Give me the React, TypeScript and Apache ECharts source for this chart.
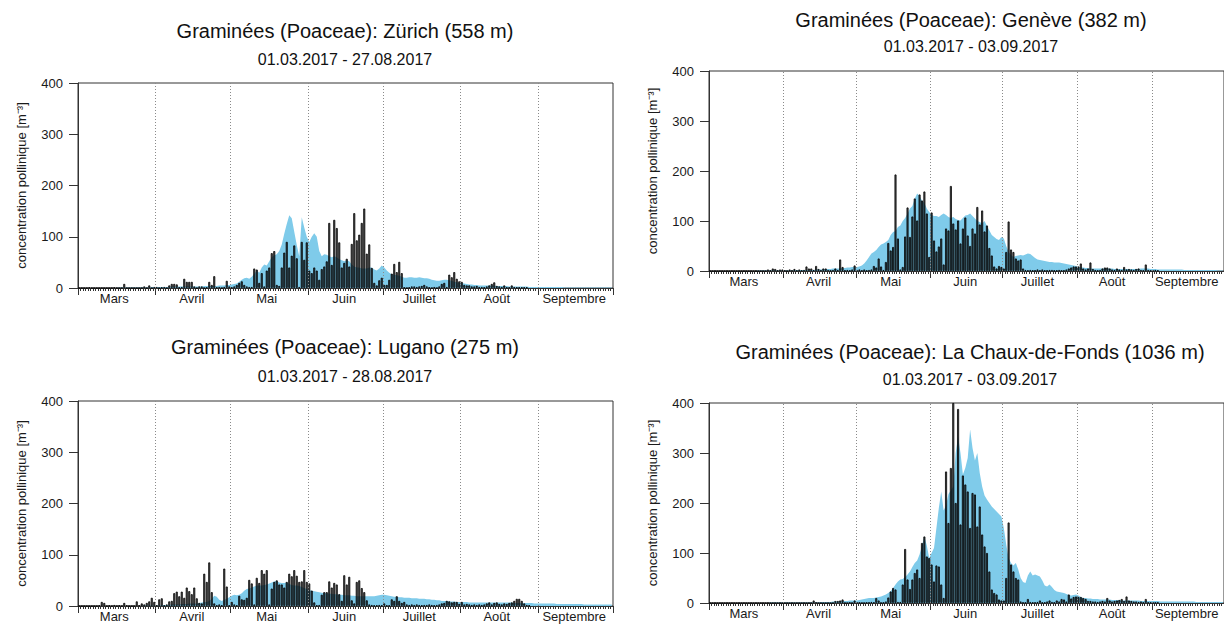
import React, { useEffect, useRef } from "react";
import * as echarts from "echarts";

// ---- axis definitions (day index 0 = 1 March) ----
const MONTH_NAMES = ["Mars", "Avril", "Mai", "Juin", "Juillet", "Août", "Septembre"];
const MONTH_STARTS = [0, 31, 61, 92, 122, 153, 184, 214];
const MONTH_MIDS = [14.5, 45.5, 75.5, 106.5, 136.5, 167.5, 198.5];
const Y_MAX = 400;
const Y_STEP = 100;

const TITLES = [
  "Graminées (Poaceae): Zürich (558 m)",
  "Graminées (Poaceae): Genève (382 m)",
  "Graminées (Poaceae): Lugano (275 m)",
  "Graminées (Poaceae): La Chaux-de-Fonds (1036 m)",
];
const PERIODS = [
  "01.03.2017 - 27.08.2017",
  "01.03.2017 - 03.09.2017",
  "01.03.2017 - 28.08.2017",
  "01.03.2017 - 03.09.2017",
];

// ---- daily measured values 2017 (bars) ----
const zurichBars = [
  0,0,0,0,1,0,0,0,0,0, 0,0,0,0,1,0,0,0,8,0, 0,0,0,0,0,0,3,0,5,0, 2,
  2,0,1,2,0,5,8,8,7,1, 2,18,12,12,12,3,0,3,3,0, 1,12,6,23,1,2,0,2,14,3,
  1,3,6,10,13,6,3,2,2,38, 36,10,29,3,34,40,68,72,6,4, 40,69,90,40,63,83,58,2,90,55, 89,
  34,29,40,34,16,37,42,52,127,45, 133,117,89,40,49,57,42,86,146,93, 104,127,155,67,85,39,10,5,15,20,
  6,6,16,28,47,31,51,29,1,0, 1,3,3,2,3,4,6,3,1,0, 2,0,3,8,10,2,26,21,31,18, 13,
  12,6,5,5,3,3,4,2,2,1, 3,5,8,11,4,3,2,5,1,1, 5,2,1,1,1,1,1,
];
const genevaBars = [
  0,0,0,0,0,0,0,0,0,0, 0,0,0,0,0,0,0,0,0,0, 0,0,0,0,3,1,5,4,1,3, 3,
  1,0,3,1,4,1,3,1,2,9, 5,5,2,10,4,2,5,5,2,1, 2,5,2,23,8,1,2,1,3,11,
  2,3,1,3,1,2,3,10,7,25, 9,2,18,56,41,48,193,65,3,8, 69,127,68,109,145,101,153,141,159,115, 28,
  117,61,39,49,65,13,85,81,170,95, 83,101,55,85,107,71,50,85,75,128, 93,121,79,91,46,31,9,5,10,8,
  5,38,99,43,38,25,21,23,5,2, 1,2,1,1,3,1,3,1,1,2, 2,1,1,2,1,1,3,5,7,9, 9,
  9,15,5,3,5,17,4,2,1,2, 5,7,7,5,3,2,5,3,2,8, 3,4,3,2,4,5,2,1,13,2, 1,
  1,2,1,
];
const luganoBars = [
  0,0,0,0,0,0,0,0,1,8, 6,0,1,0,2,0,1,0,6,1, 0,0,0,9,1,5,3,6,9,16, 8,
  1,13,15,1,3,9,10,25,28,19, 28,16,36,29,23,36,15,6,5,63, 47,85,27,5,1,3,1,73,38,1,
  8,3,1,20,13,12,16,51,44,3, 55,45,70,63,70,3,34,47,50,42, 42,36,47,63,58,70,59,47,48,70, 47,
  44,30,7,1,2,22,27,27,48,36, 45,42,23,10,60,42,57,11,5,47, 50,35,27,11,3,2,1,1,2,1,
  5,1,1,13,10,19,10,6,8,3, 2,3,2,3,2,1,2,2,3,2, 1,2,3,5,6,10,9,7,8,8, 4,
  8,3,4,3,2,3,2,3,2,3, 5,7,3,6,7,4,3,5,4,6, 7,10,14,14,10,5,2,1,
];
const chauxBars = [
  0,0,0,0,0,0,0,0,0,0, 0,0,0,0,0,0,0,0,0,0, 0,0,0,0,0,0,0,0,0,0, 0,
  0,0,0,0,0,0,0,0,0,0, 0,0,5,1,0,0,0,0,0,0, 0,4,4,5,7,0,0,1,0,5,
  1,1,0,0,1,1,2,1,10,5, 0,1,3,11,23,30,27,2,2,37, 108,47,28,47,60,67,50,120,133,93, 90,
  77,43,75,73,37,10,263,160,270,400, 200,388,157,255,237,223,150,220,217,153, 193,137,113,100,63,27,20,17,7,5,
  5,50,161,77,63,50,47,3,1,1, 8,2,1,1,2,5,1,1,3,5, 2,1,5,3,8,7,3,17,9,12, 13,
  12,12,10,8,4,4,3,3,2,3, 4,3,10,5,3,4,5,6,8,4, 13,5,4,3,3,2,3,1,8,1, 1,
  1,1,1,
];

// ---- multi-year mean (blue area), 1 March - 30 September ----
const zurichClim = [
  0,0,0,0,0,0,0,0,0,0, 0,0,0,0,0,0,1,1,1,1, 1,1,1,1,1,1,1,1,1,2, 2,
  2,2,2,2,2,2,3,3,3,3, 3,3,3,3,3,3,3,3,3,4, 4,4,4,4,4,5,5,5,6,6,
  7,8,9,12,16,19,20,18,22,28, 34,30,40,46,44,52,60,64,66,72, 85,106,125,142,136,110,84,62,138,118, 100,
  90,100,107,100,72,62,66,65,62,60, 62,60,56,54,52,54,52,46,42,40, 40,38,38,38,40,40,36,34,38,44,
  40,34,30,27,26,25,24,22,20,20, 21,21,20,20,21,20,19,19,18,16, 15,14,14,15,16,16,15,14,12,11, 10,
  10,9,8,7,7,6,6,5,5,5, 5,5,5,5,4,4,4,4,4,3, 3,3,3,3,3,3,3,2,2,2, 2,
  2,2,2,2,2,2,2,2,2,2, 1,1,1,1,1,1,1,1,1,1, 1,1,1,1,1,1,1,1,1,1,
];
const genevaClim = [
  0,0,0,0,0,0,0,0,0,0, 0,0,0,0,0,0,0,0,0,0, 1,1,1,1,1,1,1,1,1,1, 1,
  1,1,1,1,1,2,2,2,2,2, 2,2,2,3,3,3,3,4,4,4, 5,5,5,5,6,6,7,7,8,8,
  8,9,11,15,21,28,35,38,42,48, 53,55,58,62,72,78,80,88,91,100, 106,115,125,130,145,155,150,141,136,125, 118,
  112,110,110,108,112,115,112,108,106,108, 104,102,101,106,111,112,115,110,105,100, 98,95,100,90,81,72,68,64,62,68,
  65,50,38,32,28,30,31,32,31,33, 35,34,30,26,23,22,21,20,19,18, 18,17,17,17,16,15,14,13,12,11, 10,
  8,7,7,6,6,5,5,5,5,5, 5,5,5,5,5,4,4,4,4,4, 4,4,4,4,4,4,5,5,5,5, 4,
  4,4,3,3,3,3,3,3,3,3, 3,3,3,2,2,2,2,2,2,2, 2,2,2,2,2,2,2,1,1,1,
];
const luganoClim = [
  0,0,0,0,0,0,0,0,0,0, 0,0,0,0,0,0,0,0,0,0, 0,0,0,0,0,0,1,1,1,1, 1,
  1,1,2,2,2,2,3,3,3,3, 4,4,4,5,5,5,5,6,7,8, 8,10,14,20,18,12,10,12,14,17,
  20,22,21,22,25,30,33,34,36,38, 40,40,40,41,42,44,46,48,49,46, 45,45,46,43,41,40,40,39,37,35, 33,
  31,30,29,28,27,26,25,25,24,24, 23,23,22,22,21,21,21,20,20,19, 19,19,19,19,19,19,19,20,21,22,
  22,21,20,19,18,18,17,17,16,16, 16,15,15,15,14,14,14,13,13,12, 12,11,11,10,10,10,9,9,9,8, 8,
  8,8,8,7,7,7,7,7,7,7, 7,7,7,7,7,7,7,7,7,7, 7,6,6,6,6,6,6,6,6,5, 5,
  5,5,5,5,5,5,5,4,4,4, 4,4,4,4,4,4,4,4,3,3, 3,3,3,3,3,3,3,3,3,3,
];
const chauxClim = [
  0,0,0,0,0,0,0,0,0,0, 0,0,0,0,0,0,0,0,0,0, 0,0,0,0,0,1,1,1,1,1, 1,
  1,1,1,1,1,1,1,1,1,1, 1,1,1,1,1,2,2,2,2,2, 3,3,3,3,4,4,4,5,5,5,
  5,6,7,8,9,10,10,10,11,12, 13,15,17,20,24,30,37,43,47,48, 52,57,63,72,80,85,97,115,133,115, 90,
  100,110,150,190,223,185,195,218,225,233, 300,333,300,257,270,290,347,310,285,300, 260,233,215,207,200,193,188,183,178,173,
  150,117,90,80,75,80,67,50,42,40, 55,63,55,57,55,53,45,35,33,37, 32,26,23,22,21,20,18,16,15,16, 17,
  15,12,10,10,9,9,8,8,8,7, 7,7,7,7,6,6,6,6,5,5, 5,5,5,5,5,5,4,4,4,4, 4,
  4,4,4,3,3,3,3,3,3,3, 3,3,3,3,3,3,3,3,2,2, 2,2,2,2,2,2,2,2,2,2,
];

const BARS = [zurichBars, genevaBars, luganoBars, chauxBars];
const CLIMS = [zurichClim, genevaClim, luganoClim, chauxClim];

const FONT = "'Liberation Sans', Arial, Helvetica, sans-serif";
const BLUE = "#7fcbea";
const AXIS = "#333333";
const TEXT = "#1a1a1a";

const GRIDS = [
  { left: 78, top: 83, width: 535, height: 205 },
  { left: 709, top: 71, width: 526, height: 200 },
  { left: 78, top: 401, width: 535, height: 205 },
  { left: 709, top: 403, width: 526, height: 200 },
];
const TITLE_POS = [
  { x: 345, y: 31, sy: 59 },
  { x: 971, y: 20, sy: 46 },
  { x: 345, y: 347, sy: 376 },
  { x: 970, y: 352, sy: 379 },
];

function buildOption(): any {
  const grid = GRIDS.map((g) => ({
    ...g,
    show: true,
    borderColor: AXIS,
    borderWidth: 1,
    backgroundColor: "transparent",
  }));
  const xAxis: any[] = [];
  const yAxis: any[] = [];
  const series: any[] = [];
  const graphic: any[] = [];

  GRIDS.forEach((_, g) => {
    xAxis.push({
      gridIndex: g,
      type: "value",
      min: 0,
      max: 214,
      interval: 1,
      position: "bottom",
      axisLine: { show: true, onZero: false, lineStyle: { color: AXIS, width: 1 } },
      axisTick: { show: true, length: 3, lineStyle: { color: AXIS, width: 1 } },
      axisLabel: { show: false },
      splitLine: { show: false },
    });
    xAxis.push({
      gridIndex: g,
      type: "value",
      min: 0,
      max: 214,
      position: "bottom",
      offset: 0,
      axisLine: { show: false, onZero: false },
      axisTick: {
        show: true,
        length: 7,
        customValues: MONTH_STARTS,
        lineStyle: { color: AXIS, width: 1 },
      },
      axisLabel: {
        show: true,
        customValues: MONTH_MIDS,
        formatter: (v: number) => {
          const i = MONTH_MIDS.indexOf(v);
          return i >= 0 ? MONTH_NAMES[i] : "";
        },
        fontSize: 13,
        fontFamily: FONT,
        color: TEXT,
        margin: 4,
      },
      splitLine: { show: false },
    });
    yAxis.push({
      gridIndex: g,
      type: "value",
      min: 0,
      max: Y_MAX,
      interval: Y_STEP,
      axisLine: { show: true, lineStyle: { color: AXIS, width: 1 } },
      axisTick: { show: true, length: 9, lineStyle: { color: AXIS, width: 1 } },
      axisLabel: { fontSize: 13, fontFamily: FONT, color: TEXT, margin: 15 },
      splitLine: { show: false },
      name: "concentration pollinique [m⁻³]",
      nameLocation: "middle",
      nameGap: 50,
      nameTextStyle: { fontSize: 13, fontFamily: FONT, color: TEXT },
    });

    series.push({
      type: "line",
      name: "clim" + g,
      xAxisIndex: 2 * g,
      yAxisIndex: g,
      data: CLIMS[g].map((v, i) => [i + 0.5, v]),
      symbol: "none",
      showSymbol: false,
      lineStyle: { width: 0, color: BLUE },
      areaStyle: { color: BLUE, opacity: 1 },
      silent: true,
      z: 2,
      markLine: {
        silent: true,
        symbol: ["none", "none"],
        label: { show: false },
        lineStyle: { type: [1, 2], color: "#8a8a8a", width: 1 },
        data: MONTH_STARTS.slice(1, -1).map((d) => ({ xAxis: d })),
      },
    });
    series.push({
      type: "bar",
      name: "bars" + g,
      xAxisIndex: 2 * g,
      yAxisIndex: g,
      data: BARS[g].map((v, i) => [i + 0.5, v]),
      barWidth: 2,
      itemStyle: {
        color: "rgba(28,28,28,0.74)",
        borderColor: "#000000",
        borderWidth: 0.8,
      },
      silent: true,
      z: 3,
    });

    const tp = TITLE_POS[g];
    graphic.push({
      type: "text",
      x: tp.x,
      y: tp.y,
      style: {
        text: TITLES[g],
        fontSize: 20,
        fontFamily: FONT,
        fill: "#111111",
        align: "center",
        verticalAlign: "middle",
      },
    });
    graphic.push({
      type: "text",
      x: tp.x,
      y: tp.sy,
      style: {
        text: PERIODS[g],
        fontSize: 16,
        fontFamily: FONT,
        fill: "#111111",
        align: "center",
        verticalAlign: "middle",
      },
    });
  });

  return {
    animation: false,
    backgroundColor: "#ffffff",
    textStyle: { fontFamily: FONT },
    grid,
    xAxis,
    yAxis,
    series,
    graphic,
  };
}

export default function App() {
  const ref = useRef<HTMLDivElement>(null);
  useEffect(() => {
    if (!ref.current) return;
    const chart = echarts.init(ref.current, undefined, { renderer: "svg" });
    chart.setOption(buildOption());
    return () => chart.dispose();
  }, []);
  return (
    <div
      ref={ref}
      style={{ position: "absolute", left: 0, top: 0, width: 1224, height: 624, background: "#fff" }}
    />
  );
}
